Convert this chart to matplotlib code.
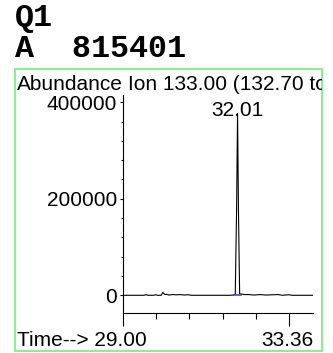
"""Extracted ion chromatogram panel, ion 133.00, window 29.00-33.36 min."""
import matplotlib
matplotlib.use("Agg")
import matplotlib.pyplot as plt
from matplotlib.patches import Rectangle
from matplotlib.ticker import MultipleLocator
from matplotlib.transforms import Bbox, TransformedBbox

# chromatogram trace (min, abundance)
times = [29.00, 29.55, 29.60, 29.65, 29.80, 29.85, 29.90, 30.00, 30.04, 30.10,
         30.15, 30.20, 30.30, 30.40, 30.50, 30.60, 30.70, 30.80, 31.80, 31.90,
         31.95, 31.985, 32.01, 32.035, 32.065, 32.12, 32.20, 32.30, 32.45, 32.60,
         32.75, 33.08, 33.20, 33.36, 33.45, 33.99]
abundance = [0, 0, 1500, 0, 0, 1200, 0, 0, 6000, 1500,
             2000, 500, 1500, 1000, 1500, 500, 1200, 0, 0, 500,
             2500, 180000, 377000, 170000, 3000, 2500, 1500, 1500, 500, 1500,
             500, 1500, 0, 1200, 0, 0]

peak_rt = 32.01
peak_height = 377000
baseline_span = [31.92, 32.09]      # integration baseline under the peak

t_start, t_end = 29.00, 33.36
y_major = [0, 200000, 400000]
sample_name = "Q1"
area_text = "A  815401"
ion_text = "Ion 133.00 (132.70 to 133.70): Q1.D\\data.ms"

W, H = 333, 353
fig = plt.figure(figsize=(W / 100, H / 100), dpi=100)
sans = "Liberation Sans"
mono = "Liberation Mono"


def px(x, y):
    return x / W, 1 - y / H


# header lines
fig.text(*px(15, 26), sample_name, family=mono, weight="bold", fontsize=22.8, va="baseline")
fig.text(*px(15, 56.7), area_text, family=mono, weight="bold", fontsize=22.8, va="baseline")

# green panel frame
x0, y0 = px(15, 350.7)
x1, y1 = px(322.3, 69.3)
frame = Rectangle((x0, y0), x1 - x0, y1 - y0, transform=fig.transFigure,
                  fill=False, edgecolor="#7cf07c", lw=1.3)
fig.add_artist(frame)

fig.text(*px(16.7, 90), "Abundance", family=sans, fontsize=15, va="baseline")
ion = fig.text(*px(128.3, 90), ion_text, family=sans, fontsize=15, va="baseline")
ion.set_clip_box(TransformedBbox(Bbox.from_extents(x0, y0, x1, y1), fig.transFigure))
ion.set_clip_on(True)

ax = fig.add_axes([123.3 / W, (H - 313) / H, 189.4 / W, 218 / H])
ax.plot(times, abundance, color="black", lw=0.8)
ax.plot(baseline_span, [0, 0], color="#3344ff", lw=1.2)
ax.annotate(f"{peak_rt:.2f}", (peak_rt, peak_height), xytext=(0, -1.8),
            textcoords="offset points", ha="center", va="baseline",
            family=sans, fontsize=15)

ax.set_xlim(t_start, 33.99)
ax.set_ylim(-36700, 415100)
for side in ("top", "right"):
    ax.spines[side].set_visible(False)
for side in ("left", "bottom"):
    ax.spines[side].set_linewidth(0.8)

step = (t_end - t_start) / 5
ax.set_xticks([t_start, t_end])
ax.set_xticks([t_start + step * k for k in range(1, 5)], minor=True)
ax.tick_params(axis="x", which="major", length=9.4, width=0.8, labelbottom=False)
ax.tick_params(axis="x", which="minor", length=4.3, width=0.8)

ax.set_yticks(y_major)
ax.set_yticklabels([str(v) for v in y_major], family=sans, fontsize=15)
ax.yaxis.set_minor_locator(MultipleLocator(40000))
ax.tick_params(axis="y", which="major", length=2, width=0.8, pad=2.4)
ax.tick_params(axis="y", which="minor", length=1.2, width=0.8)

fig.text(*px(16.7, 345.7), f"Time--> {t_start:.2f}", family=sans, fontsize=15, va="baseline")
fig.text(*px(313, 345.7), f"{t_end:.2f}", family=sans, fontsize=15, va="baseline", ha="right")

fig.savefig("out.png", dpi=100)
